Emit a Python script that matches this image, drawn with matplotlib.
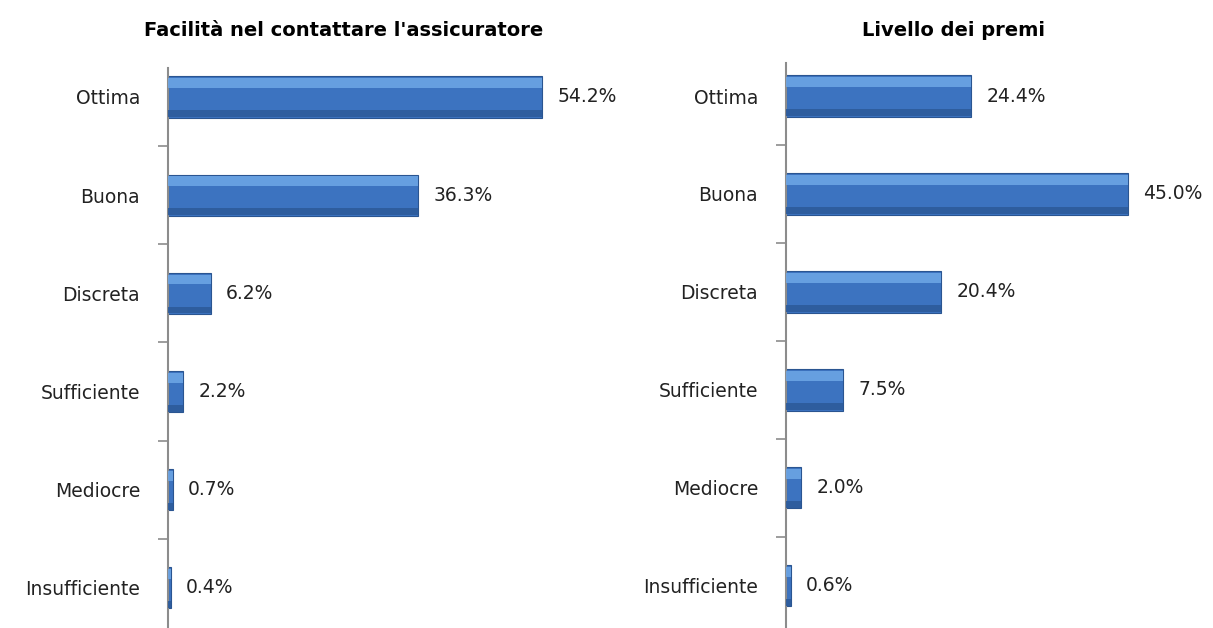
import numpy as np
import matplotlib
matplotlib.use('Agg')
import matplotlib.pyplot as plt

# dati
categorie = ['Ottima', 'Buona', 'Discreta', 'Sufficiente', 'Mediocre', 'Insufficiente']
facilita = [54.2, 36.3, 6.2, 2.2, 0.7, 0.4]
premi = [24.4, 45.0, 20.4, 7.5, 2.0, 0.6]
titoli = ["Facilità nel contattare l'assicuratore", 'Livello dei premi']

plt.rcParams['font.family'] = ['DejaVu Sans']

fig = plt.figure(figsize=(12.13, 6.28), dpi=100)

def pannello(rect, valori, xmax, ylim):
    ax = fig.add_axes(rect)
    y = np.arange(len(categorie))
    h = 0.42
    # barra principale + effetto rilievo
    ax.barh(y, valori, height=h, color='#3c73c0', edgecolor='#2a5591', linewidth=0.8, zorder=2)
    ax.barh(y - h/2 + 0.07, valori, height=0.1, color='#6ea7e6', alpha=0.85, linewidth=0, zorder=3)
    ax.barh(y + h/2 - 0.04, valori, height=0.07, color='#2d5b9b', alpha=0.9, linewidth=0, zorder=3)
    for yi, v in zip(y, valori):
        ax.annotate('%.1f%%' % v, (v, yi), xytext=(11, 0), textcoords='offset points',
                    va='center', ha='left', fontsize=13.5, color='#222222')
    ax.set_xlim(0, xmax)
    ax.set_ylim(*ylim)
    ax.set_yticks(y)
    ax.set_yticklabels(categorie, fontsize=13.5, color='#222222')
    ax.tick_params(axis='y', which='major', length=0, pad=20)
    ax.set_yticks(y[:-1] + 0.5, minor=True)
    ax.tick_params(axis='y', which='minor', length=7, color='#8c8c8c', width=1.2)
    ax.set_xticks([])
    for s in ['top', 'right', 'bottom']:
        ax.spines[s].set_visible(False)
    ax.spines['left'].set_color('#8c8c8c')
    ax.spines['left'].set_linewidth(1.5)
    return ax

pannello([168/1213, 0, 414/1213, 560/628], facilita, 60, (5.41, -0.295))
pannello([786/1213, 0, 380/1213, 565/628], premi, 50, (5.43, -0.337))

fig.text(344/1213, 1 - 30/628, titoli[0], ha='center', va='center', fontsize=14, fontweight='bold')
fig.text(954/1213, 1 - 30/628, titoli[1], ha='center', va='center', fontsize=14, fontweight='bold')

fig.savefig('out.png', dpi=100)
